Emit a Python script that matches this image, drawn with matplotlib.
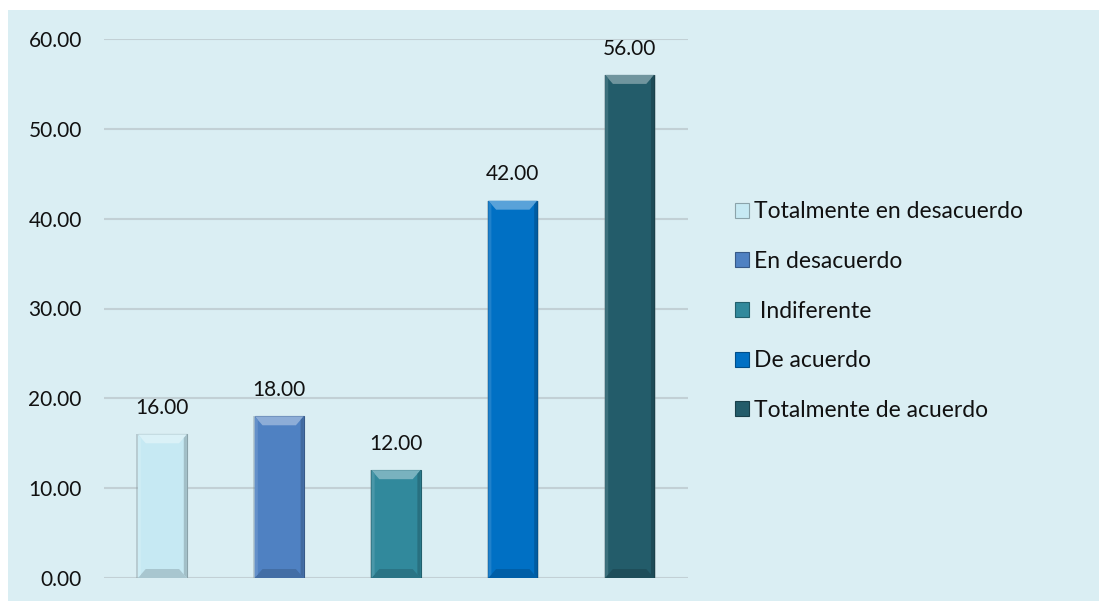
import numpy as np
import matplotlib.pyplot as plt
from matplotlib.patches import Rectangle, Polygon
from matplotlib.colors import to_rgb

plt.rcParams['font.family'] = ['Lato', 'DejaVu Sans']

# ===== DATA =====
categories = ['Totalmente en desacuerdo', 'En desacuerdo', ' Indiferente',
              'De acuerdo', 'Totalmente de acuerdo']
values = [16.00, 18.00, 12.00, 42.00, 56.00]
colors = ['#C6E9F3', '#4F81C2', '#31899C', '#0070C4', '#235C6A']
y_ticks = [0, 10, 20, 30, 40, 50, 60]

BG = '#DAEEF3'
GRID = '#C2D0D5'


def mix(c, other, t):
    a = np.array(to_rgb(c))
    b = np.array(to_rgb(other))
    return tuple(a * (1 - t) + b * t)


fig = plt.figure(figsize=(10.99, 6.01), dpi=100)
fig.patch.set_facecolor('white')
# light blue chart area, inset from the top/left edge
fig.add_artist(Rectangle((8 / 1099, 0), 1 - 8 / 1099, 1 - 10 / 601,
                         transform=fig.transFigure, facecolor=BG,
                         edgecolor='none', zorder=-10))

ax = fig.add_axes([104 / 1099, 1 - 578 / 601, 584 / 1099, (578 - 39) / 601])
ax.set_facecolor('none')

x = np.arange(len(categories))
bars = ax.bar(x, values, width=0.42, color=colors, label=categories,
              edgecolor=[mix(c, 'black', 0.3) for c in colors],
              linewidth=0.8, zorder=3)

# bevel on each bar: light top, dark bottom, shaded sides
for b, c in zip(bars, colors):
    x0, w, h = b.get_x(), b.get_width(), b.get_height()
    d, dy = w * 0.16, 1.0
    top = Polygon([(x0, h), (x0 + w, h), (x0 + w - d, h - dy), (x0 + d, h - dy)],
                  closed=True, facecolor=mix(c, 'white', 0.35), edgecolor='none', zorder=4)
    bot = Polygon([(x0, 0), (x0 + w, 0), (x0 + w - d, dy), (x0 + d, dy)],
                  closed=True, facecolor=mix(c, 'black', 0.15), edgecolor='none', zorder=4)
    left = Polygon([(x0, 0), (x0 + d * 0.4, dy * 0.4), (x0 + d * 0.4, h - dy * 0.4), (x0, h)],
                   closed=True, facecolor=mix(c, 'white', 0.12), edgecolor='none', zorder=4)
    right = Polygon([(x0 + w, 0), (x0 + w - d * 0.4, dy * 0.4), (x0 + w - d * 0.4, h - dy * 0.4), (x0 + w, h)],
                    closed=True, facecolor=mix(c, 'black', 0.18), edgecolor='none', zorder=4)
    # soft drop shadow
    shadow = Rectangle((x0 - 0.012, -0.3), w + 0.024, h + 0.3, facecolor='#7A8C92',
                       alpha=0.35, edgecolor='none', zorder=2)
    for p in (shadow, top, bot, left, right):
        ax.add_patch(p)
    ax.annotate(f'{h:.2f}', (x0 + w / 2, h), xytext=(0, 19), textcoords='offset points',
                ha='center', va='center', fontsize=15, color='#111111')

ax.set_xlim(-0.5, len(categories) - 0.5)
ax.set_ylim(0, 60)
ax.set_yticks(y_ticks)
ax.set_yticklabels([f'{t:.2f}' for t in y_ticks], fontsize=15, color='#111111')
ax.tick_params(axis='y', length=0, pad=16)
ax.set_xticks([])
ax.grid(axis='y', color=GRID, linewidth=1.5, zorder=0)
for s in ax.spines.values():
    s.set_visible(False)

leg = ax.legend(loc='center left', bbox_to_anchor=(735 / 1099, 1 - 311 / 601),
                bbox_transform=fig.transFigure, frameon=False, fontsize=16.5,
                handlelength=0.62, handleheight=0.62, handletextpad=0.2,
                labelspacing=1.25, borderpad=0, borderaxespad=0)
for t in leg.get_texts():
    t.set_color('#111111')

fig.savefig('out.png', dpi=100, facecolor=fig.get_facecolor())
